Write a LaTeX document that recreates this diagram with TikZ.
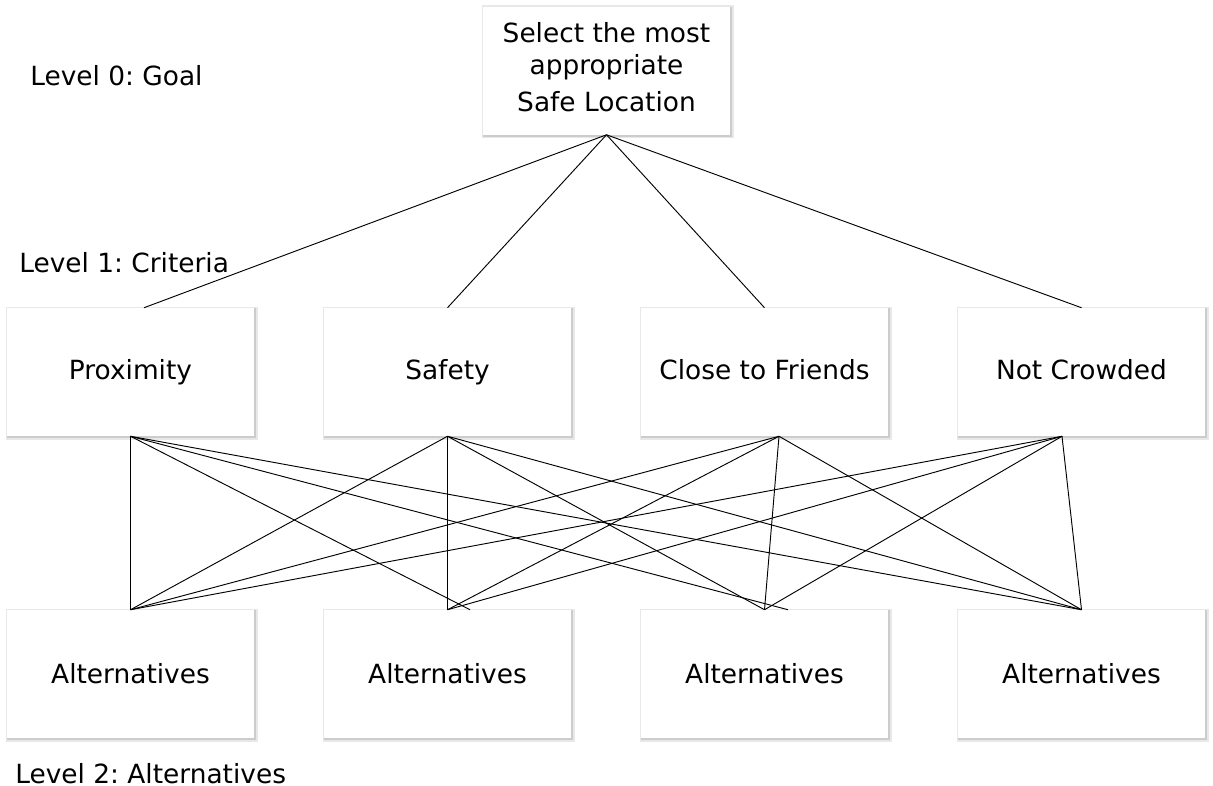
\documentclass[tikz,border=0pt]{standalone}
\usepackage{fontspec}
\setmainfont{DejaVu Sans}
\frenchspacing
\usetikzlibrary{calc}
\begin{document}
\begin{tikzpicture}[x=0.75pt,y=-0.75pt,
  box/.style={minimum width=185.25pt,minimum height=96pt,inner sep=0pt,fill=white,align=center,
    text height=15pt,text depth=4.5pt,
    preaction={draw=black!9,line width=3.6pt,transform canvas={xshift=0.9pt,yshift=-0.9pt}},
    preaction={draw=black!20,line width=1.5pt,transform canvas={xshift=0.9pt,yshift=-0.9pt}},
    font=\fontsize{19.8pt}{24pt}\selectfont},
  altbox/.style={box,text height=18pt},
  goalbox/.style={box,text height=,text depth=},
  lvl/.style={anchor=base west,inner sep=0pt,text depth=0pt,font=\fontsize{19.8pt}{24pt}\selectfont},
  link/.style={line width=0.7pt,black}]
\useasboundingbox (0,0) rectangle (1213,785);
% nodes
\node[goalbox] (g) at (606.5,70.5) {\raisebox{1.3pt}{\begin{tabular}{@{}c@{}}Select the most\\appropriate\\[3.75pt]Safe Location\end{tabular}}};
\node[box] (c1) at (130.5,372) {Proximity};
\node[box] (c2) at (447.5,372) {Safety};
\node[box] (c3) at (764.5,372) {Close to Friends};
\node[box] (c4) at (1081.5,372) {Not Crowded};
\node[altbox] (a1) at (130.5,674) {Alternatives};
\node[altbox] (a2) at (447.5,674) {Alternatives};
\node[altbox] (a3) at (764.5,674) {Alternatives};
\node[altbox] (a4) at (1081.5,674) {Alternatives};
% level labels
\node[lvl] (l0) at (30,85.5) {Level 0: Goal};
\node[lvl] (l1) at (19,272.5) {Level 1: Criteria};
\node[lvl] (l2) at (15,783) {Level 2: Alternatives};
% goal to criteria
\draw[link] (g.south) -- ($(c1.north)+(13.5,0)$);
\draw[link] (g.south) -- (c2.north);
\draw[link] (g.south) -- (c3.north);
\draw[link] (g.south) -- (c4.north);
% criteria to alternatives
\draw[link] (c1.south) -- (a1.north);
\draw[link] (c1.south) -- ($(a2.north)+(22.5,0)$);
\draw[link] (c1.south) -- ($(a3.north)+(23.5,0)$);
\draw[link] (c1.south) -- (a4.north);
\draw[link] (c2.south) -- (a1.north);
\draw[link] (c2.south) -- (a2.north);
\draw[link] (c2.south) -- (a3.north);
\draw[link] (c2.south) -- (a4.north);
\draw[link] ($(c3.south)+(14.5,0)$) -- (a1.north);
\draw[link] ($(c3.south)+(14.5,0)$) -- (a2.north);
\draw[link] ($(c3.south)+(14.5,0)$) -- (a3.north);
\draw[link] ($(c3.south)+(14.5,0)$) -- (a4.north);
\draw[link] ($(c4.south)+(-19.5,0)$) -- (a1.north);
\draw[link] ($(c4.south)+(-19.5,0)$) -- (a2.north);
\draw[link] ($(c4.south)+(-19.5,0)$) -- (a3.north);
\draw[link] ($(c4.south)+(-19.5,0)$) -- (a4.north);
\end{tikzpicture}
\end{document}
